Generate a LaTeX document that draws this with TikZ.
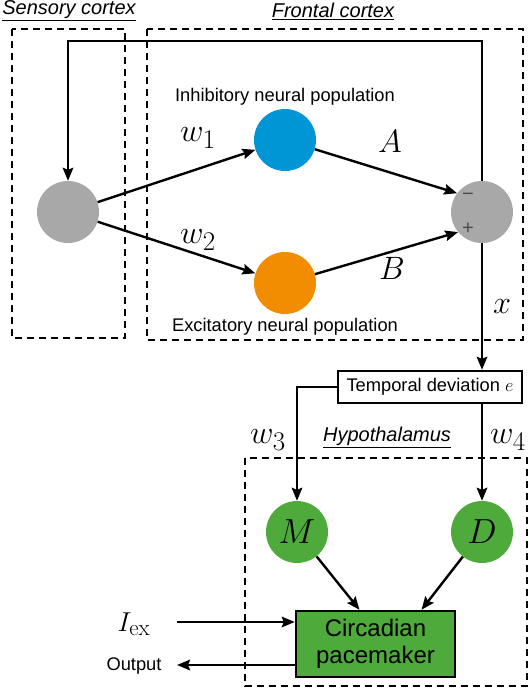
\RequirePackage{fix-cm}
\documentclass[tikz,border=0pt]{standalone}
\usepackage[no-math]{fontspec}
\usepackage{graphicx}
\setmainfont{Liberation Sans}
\usetikzlibrary{arrows.meta,calc}
\definecolor{cblue}{RGB}{0,150,214}
\definecolor{corange}{RGB}{242,140,0}
\definecolor{cgray}{RGB}{168,168,168}
\definecolor{cgreen}{RGB}{78,170,58}
\newcommand{\mbig}[2][1.3]{\scalebox{#1}{$#2$}}
\begin{document}
\begin{tikzpicture}[x=1pt,y=-1pt,
  arr/.style={line width=2.4pt,-{Stealth[length=13pt,width=10.5pt,inset=2pt]}},
  zone/.style={draw,line width=2.8pt,dash pattern=on 7pt off 5pt},
  neuron/.style={circle,inner sep=0pt,minimum size=62pt},
  lbl/.style={font=\fontsize{18.3}{22}\selectfont,inner sep=0pt},
  ttl/.style={font=\fontsize{20}{24}\selectfont\itshape,inner sep=0pt},
  mth/.style={font=\fontsize{24.88}{30}\selectfont,inner sep=0pt},
  sgn/.style={font=\fontsize{20}{20}\selectfont,text=black!70,inner sep=0pt},
]
\useasboundingbox (0,0) rectangle (530,689);

% zones
\draw[zone] (12,29) rectangle (125,338);
\draw[zone] (147,29) rectangle (523,340);
\draw[zone] (245,458) rectangle (527,686);

% titles
\node[ttl] (sens) at (69,11) {\underline{Sensory cortex}};
\node[ttl] (front) at (333,11) {\underline{Frontal cortex}};
\node[ttl] (hyp) at (387,437) {\underline{Hypothalamus}};

% neurons
\node[neuron,fill=cgray] (gL) at (68,212) {};
\node[neuron,fill=cblue] (blue) at (285,140) {};
\node[neuron,fill=corange] (orange) at (285,283) {};
\node[neuron,fill=cgray] (gR) at (482,212) {};
\node[sgn] (minus) at (468,197) {−};
\node[sgn] (plus) at (468,229) {+};

\node[lbl] (inh) at (285,97) {Inhibitory neural population};
\node[lbl] (exc) at (285,327) {Excitatory neural population};

% temporal deviation
\node[draw,line width=2.4pt,minimum width=184pt,minimum height=32pt,lbl] (tdev) at (430,387) {Temporal deviation $e$};

% hypothalamus
\node[neuron,fill=cgreen,mth] (M) at (297,532) {\mbig[1.4]{M}};
\node[neuron,fill=cgreen,mth] (D) at (482,532) {\mbig[1.4]{D}};
\node[draw,line width=2.4pt,fill=cgreen,minimum width=159pt,minimum height=66pt,inner sep=0pt,align=center,font=\fontsize{24}{26.5}\selectfont] (cp) at (375.5,644) {Circadian\\pacemaker};

% math labels
\node[mth] (w1) at (198,138) {\mbig{w_1}};
\node[mth] (w2) at (198,240) {\mbig{w_2}};
\node[mth] (lA) at (390,141) {\mbig{A}};
\node[mth] (lB) at (392,268) {\mbig{B}};
\node[mth] (lx) at (502,307) {\mbig{x}};
\node[mth] (w3) at (268,440) {\mbig{w_3}};
\node[mth] (w4) at (508,440) {\mbig{w_4}};
\node[mth] (iex) at (134,624) {\mbig[1.1]{I_{\mathrm{ex}}}};
\node[lbl] (out) at (134,666) {Output};

% connectors
\coordinate (fbR) at (482,41);
\coordinate (fbL) at (68,41);
\draw[arr] (gR.north) -- (fbR) -- (fbL) -- (gL.north);
\draw[arr] (gL) -- (blue);
\draw[arr] (gL) -- (orange);
\draw[arr] (blue) -- (gR.143);
\draw[arr] (orange) -- (gR.-140);
\draw[arr] (gR.south) -- (gR.south |- tdev.north);
\draw[arr] (tdev.west) -| (M.north);
\draw[arr] (tdev.south -| D.north) -- (D.north);
\draw[arr] (M) -- ($(cp.north)+(-16,0)$);
\draw[arr] (D) -- ($(cp.north)+(46,0)$);
\coordinate (iexs) at (177,622);
\coordinate (outs) at (177,665);
\draw[arr] (iexs) -- (iexs -| cp.west);
\draw[arr] (outs -| cp.west) -- (outs);
\end{tikzpicture}
\end{document}
